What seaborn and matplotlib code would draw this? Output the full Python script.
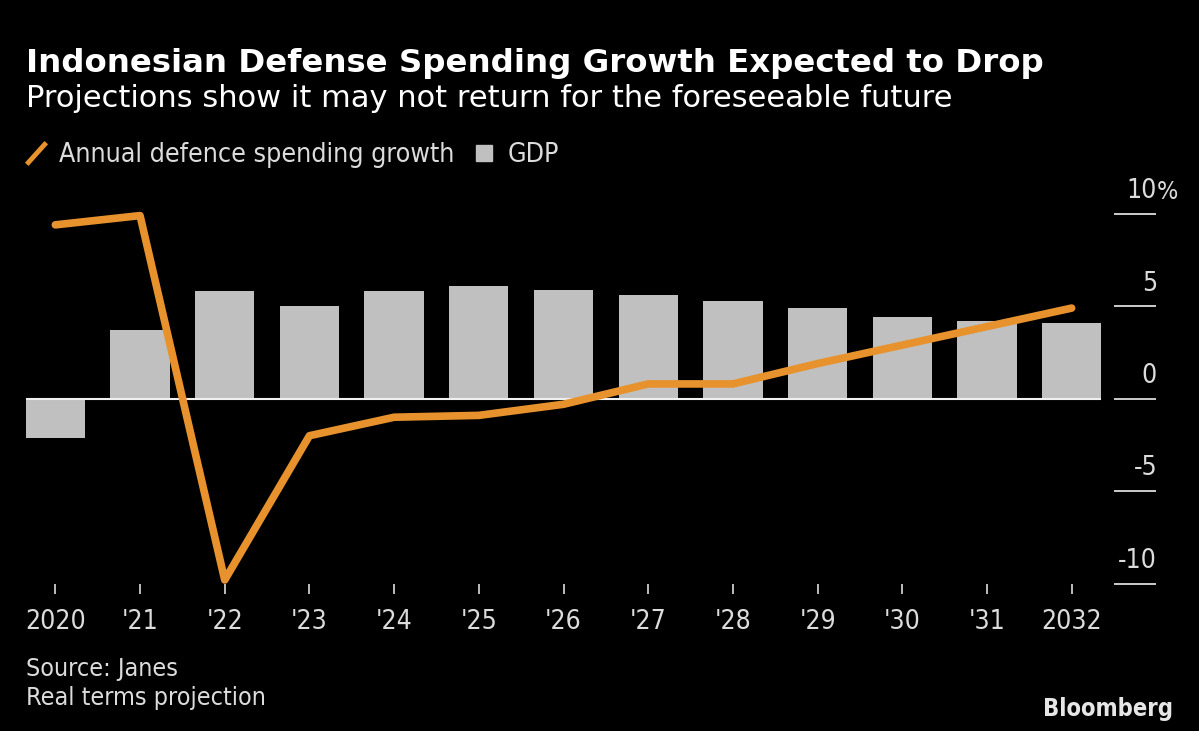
import numpy as np
import pandas as pd
import matplotlib
matplotlib.use("Agg")
import matplotlib.pyplot as plt
import matplotlib.transforms as mtransforms
from matplotlib.lines import Line2D
import seaborn as sns

# Values
years = ["2020", "'21", "'22", "'23", "'24", "'25", "'26",
         "'27", "'28", "'29", "'30", "'31", "2032"]
gdp = [-2.1, 3.7, 5.8, 5.0, 5.8, 6.1, 5.9, 5.6, 5.3, 4.9, 4.4, 4.2, 4.1]
defence = [9.4, 9.9, -9.8, -2.0, -1.0, -0.9, -0.3, 0.8, 0.8, 1.9, 2.9, 3.9, 4.9]
ytick_vals = [10, 5, 0, -5, -10]
ytick_labels = ["10", "5", "0", "-5", "-10"]

df = pd.DataFrame({"year": years, "gdp": gdp, "defence": defence,
                   "pos": np.arange(len(years))})

BG = "#000000"
BAR = "#c0c0c0"
ORANGE = "#e8922d"
TXT = "#dcdcdc"

sns.set_style("dark", {"axes.facecolor": BG, "figure.facecolor": BG})
plt.rcParams["font.family"] = ["DejaVu Sans"]

fig = plt.figure(figsize=(11.99, 7.31), dpi=100)
ax = fig.add_axes([13 / 1199, 1 - 583.7 / 731, (1114 - 13) / 1199, (583.7 - 204.5) / 731])

bar_w = 0.7
sns.barplot(data=df, x="year", y="gdp", color=BAR, width=bar_w,
            saturation=1, linewidth=0, edgecolor=BAR, ax=ax, zorder=2)
ax.hlines(0, df["pos"].min() - bar_w / 2, df["pos"].max() + bar_w / 2,
          color="#f0f0f0", lw=1.5, zorder=3)
sns.lineplot(data=df, x="pos", y="defence", color=ORANGE, lw=5.5,
             ax=ax, zorder=4, solid_joinstyle="round",
             solid_capstyle="round", clip_on=False)

ax.set_xlim(-0.5, len(years) - 0.5)
ax.set_ylim(-10, 10.5)
ax.set_xlabel("")
ax.set_ylabel("")
for s in ax.spines.values():
    s.set_visible(False)
ax.grid(False)

ax.set_xticks(df["pos"])
ax.set_xticklabels(years, fontsize=19, color=TXT, fontstretch="condensed")
ax.tick_params(axis="x", bottom=True, direction="out", length=7, width=1.2,
               color=TXT, pad=11)

ax.set_yticks(ytick_vals)
ax.tick_params(axis="y", left=False, right=True, labelleft=False,
               labelright=False, direction="out", length=30, width=1.3,
               color=TXT)
trans = mtransforms.offset_copy(
    mtransforms.blended_transform_factory(ax.transAxes, ax.transData),
    fig=fig, x=31, y=7, units="points")
for v, lab in zip(ytick_vals, ytick_labels):
    ax.text(1.0, v, lab, transform=trans, ha="right", va="bottom",
            fontsize=19, color=TXT, fontstretch="condensed")
ax.text(1.0, ytick_vals[0], "%", transform=trans, ha="left", va="bottom",
        fontsize=18, color=TXT, fontstretch="condensed")

fig.text(26 / 1199, 1 - 72 / 731,
         "Indonesian Defense Spending Growth Expected to Drop",
         fontsize=23.3, fontweight="bold", color="white", va="baseline")
fig.text(26 / 1199, 1 - 107 / 731,
         "Projections show it may not return for the foreseeable future",
         fontsize=22, color="white", va="baseline")

handles = [Line2D([], [], ls="none", marker=(2, 0, -42), markersize=21,
                  markeredgewidth=3.5, markeredgecolor=ORANGE),
           Line2D([], [], ls="none", marker="s", markersize=11,
                  markerfacecolor=BAR, markeredgecolor=BAR)]
fig.legend(handles, ["Annual defence spending growth", "GDP"],
           loc="center left", bbox_to_anchor=(12 / 1199, 1 - 155 / 731),
           borderaxespad=0, ncol=2, frameon=False, handlelength=1.0,
           handletextpad=0.38, columnspacing=0.6,
           prop={"size": 19.2, "stretch": "condensed"}, labelcolor=TXT)

fig.text(26 / 1199, 1 - 676 / 731, "Source: Janes", fontsize=18,
         color=TXT, va="baseline", fontstretch="condensed")
fig.text(26 / 1199, 1 - 705 / 731, "Real terms projection", fontsize=18,
         color=TXT, va="baseline", fontstretch="condensed")
fig.text(1173 / 1199, 1 - 716 / 731, "Bloomberg", fontsize=17,
         fontweight="bold", color="#e6e6e6", ha="right", va="baseline",
         fontstretch="condensed")

fig.savefig("out.png", dpi=100, facecolor=BG)
